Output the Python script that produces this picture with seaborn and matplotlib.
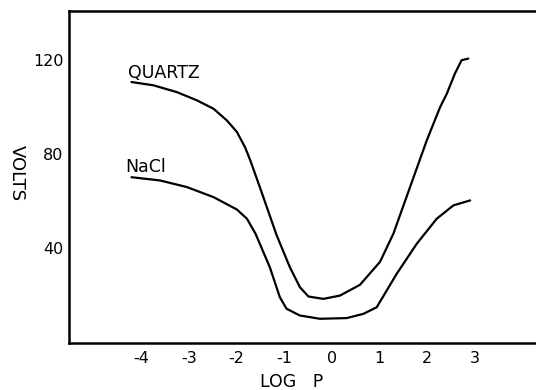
import matplotlib
matplotlib.use("Agg")
import matplotlib.pyplot as plt
import seaborn as sns
import pandas as pd

# ---- data ----
quartz_logp = [-4.20, -3.74, -3.25, -2.83, -2.48, -2.20, -1.99, -1.82, -1.71, -1.51,
               -1.16, -0.88, -0.67, -0.49, -0.18, 0.17, 0.59, 1.01, 1.29, 1.64,
               1.99, 2.27, 2.41, 2.58, 2.72, 2.86]
quartz_volts = [110.7, 109.3, 106.4, 102.9, 99.3, 94.3, 89.4, 82.9, 77.3, 65.9,
                45.5, 31.7, 23.2, 19.2, 18.2, 19.6, 24.2, 34.0, 46.0, 65.9,
                85.8, 100.0, 105.7, 114.3, 120.0, 120.7]

nacl_logp = [-4.20, -3.60, -3.04, -2.48, -1.99, -1.78, -1.60, -1.30, -1.09, -0.95,
             -0.67, -0.25, 0.31, 0.66, 0.94, 1.36, 1.78, 2.20, 2.55, 2.90]
nacl_volts = [70.1, 68.7, 65.9, 61.6, 56.3, 52.4, 46.0, 31.7, 18.9, 14.0,
              11.1, 9.7, 10.0, 11.8, 14.6, 28.9, 41.7, 52.4, 58.1, 60.2]

series_names = ["QUARTZ", "NaCl"]
x_ticks = [-4, -3, -2, -1, 0, 1, 2, 3]
x_tick_labels = ["-4", "-3", "-2", "-1", "0", "1", "2", "3"]
y_ticks = [40, 80, 120]
y_tick_labels = ["40", "80", "120"]
x_label = "LOG   P"
y_label = "VOLTS"

df = pd.concat([
    pd.DataFrame({"logp": quartz_logp, "volts": quartz_volts, "series": series_names[0]}),
    pd.DataFrame({"logp": nacl_logp, "volts": nacl_volts, "series": series_names[1]}),
], ignore_index=True)

sns.set_style("white")
plt.rcParams["font.family"] = ["DejaVu Sans"]
plt.rcParams["axes.unicode_minus"] = False

W, H = 536, 390
fig = plt.figure(figsize=(W / 100, H / 100), dpi=100)
left_px, bottom_px, top_px = 69, 342.7, 11
ax = fig.add_axes([left_px / W, (H - bottom_px) / H, 1 - left_px / W, (bottom_px - top_px) / H])

sns.lineplot(data=df, x="logp", y="volts", units="series", estimator=None, sort=False,
             color="black", linewidth=1.6, ax=ax, legend=False)
for line in ax.get_lines():
    line.set_solid_joinstyle("round")
    line.set_solid_capstyle("round")

ax.set_xlim(-5.51, 4.28)
ax.set_ylim(-0.5, 141)
ax.set_xticks(x_ticks)
ax.set_xticklabels(x_tick_labels)
ax.set_yticks(y_ticks)
ax.set_yticklabels(y_tick_labels)
ax.tick_params(axis="both", direction="in", length=9.5, width=1.3, color="black",
               labelsize=11.5, labelcolor="black")
ax.tick_params(axis="x", pad=6)
ax.tick_params(axis="y", pad=4)
ax.set_xlabel("")
ax.set_ylabel("")

for side in ["left", "bottom", "top"]:
    ax.spines[side].set_visible(True)
    ax.spines[side].set_color("black")
    ax.spines[side].set_linewidth(1.8)
ax.spines["right"].set_visible(False)
ax.grid(False)

ax.text(-4.27, 114.5, series_names[0], fontsize=12.5, ha="left", va="center", color="black")
ax.text(-4.34, 74.3, series_names[1], fontsize=12.5, ha="left", va="center", color="black")

fig.text(292 / W, 1 - 382 / H, x_label, fontsize=12.5, ha="center", va="center", color="black")
fig.text(17 / W, 1 - 173 / H, y_label, fontsize=13, rotation=-90, ha="center", va="center",
         color="black")

fig.savefig("out.png", dpi=100, facecolor="white")
